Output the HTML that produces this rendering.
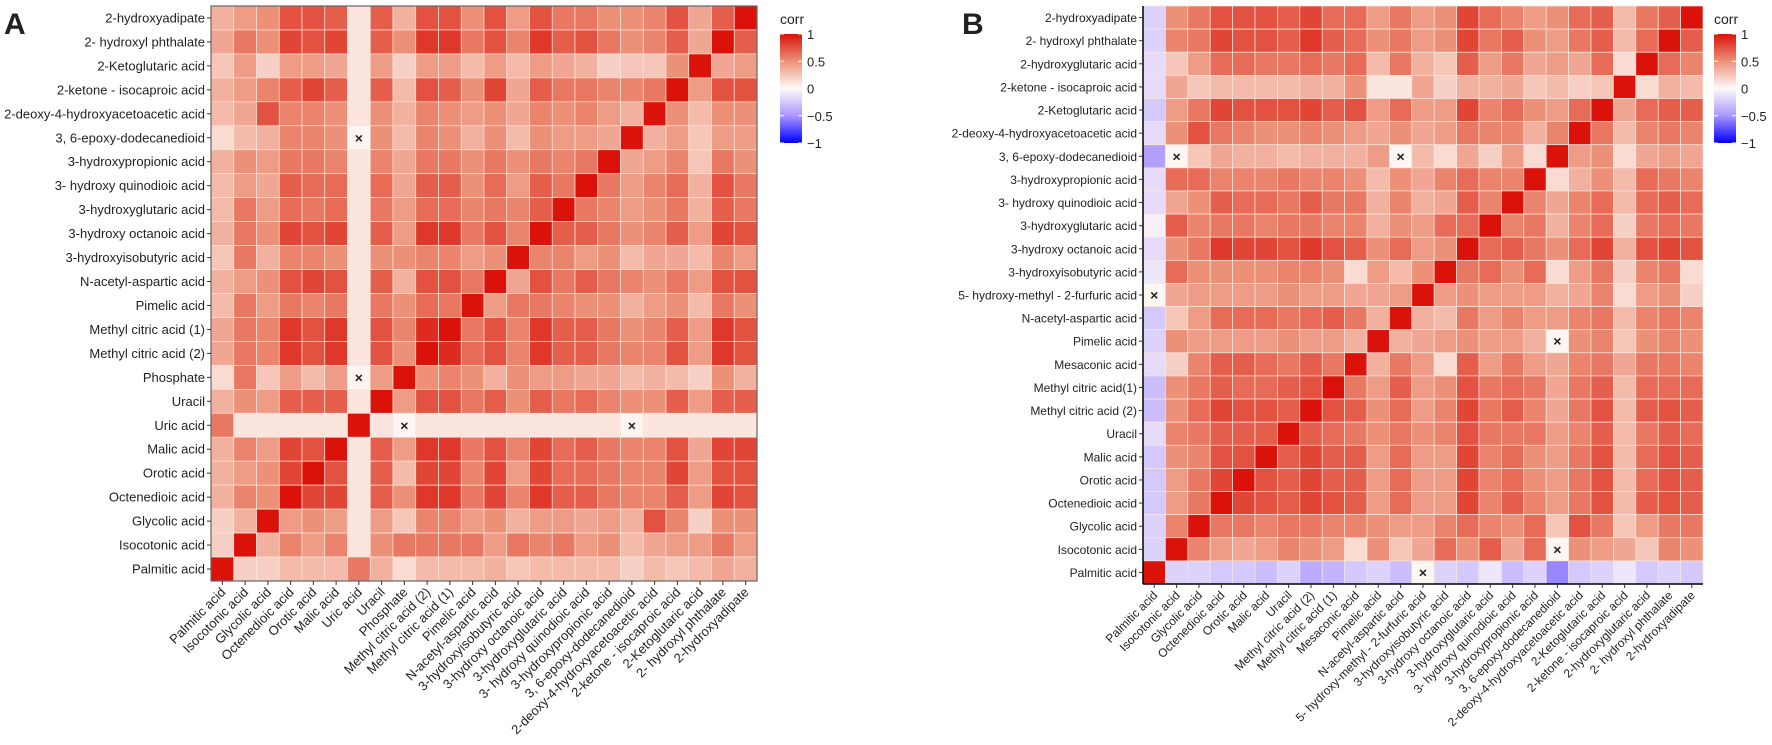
<!DOCTYPE html>
<html><head><meta charset="utf-8">
<style>
html,body{margin:0;padding:0;background:#fff;}
svg text{font-family:"Liberation Sans",sans-serif;fill:#222;}
</style></head>
<body>
<svg id="root" width="1772" height="740" viewBox="0 0 1772 740" xmlns="http://www.w3.org/2000/svg">
<defs>
<linearGradient id="lg" x1="0" y1="0" x2="0" y2="1">
<stop offset="0" stop-color="#da120a"/><stop offset="0.25" stop-color="#ec9178"/><stop offset="0.5" stop-color="#fffaf8"/><stop offset="0.75" stop-color="#aa96ff"/><stop offset="1" stop-color="#0000ff"/>
</linearGradient>
</defs>
<text x="4" y="34" font-size="30" font-weight="bold">A</text>
<text x="962" y="34" font-size="30" font-weight="bold">B</text>
<g id="panelA"></g>
<g id="panelB"></g>
</svg>
<script>
const varsA = ["Palmitic acid","Isocotonic acid","Glycolic acid","Octenedioic acid","Orotic acid","Malic acid","Uric acid","Uracil","Phosphate","Methyl citric acid (2)","Methyl citric acid (1)","Pimelic acid","N-acetyl-aspartic acid","3-hydroxyisobutyric acid","3-hydroxy octanoic acid","3-hydroxyglutaric acid","3- hydroxy quinodioic acid","3-hydroxypropionic acid","3, 6-epoxy-dodecanedioid","2-deoxy-4-hydroxyacetoacetic acid","2-ketone - isocaproic acid","2-Ketoglutaric acid","2- hydroxyl phthalate","2-hydroxyadipate"];
const rowLabelsA = ["2-hydroxyadipate","2- hydroxyl phthalate","2-Ketoglutaric acid","2-ketone - isocaproic acid","2-deoxy-4-hydroxyacetoacetic acid","3, 6-epoxy-dodecanedioid","3-hydroxypropionic acid","3- hydroxy quinodioic acid","3-hydroxyglutaric acid","3-hydroxy octanoic acid","3-hydroxyisobutyric acid","N-acetyl-aspartic acid","Pimelic acid","Methyl citric acid (1)","Methyl citric acid (2)","Phosphate","Uracil","Uric acid","Malic acid","Orotic acid","Octenedioic acid","Glycolic acid","Isocotonic acid","Palmitic acid"];
const valuesA = [
[0.35,0.45,0.5,0.75,0.75,0.7,0.1,0.7,0.35,0.75,0.75,0.5,0.75,0.45,0.75,0.6,0.6,0.5,0.5,0.55,0.75,0.4,0.7,1],
[0.4,0.6,0.5,0.8,0.75,0.8,0.1,0.7,0.5,0.85,0.85,0.6,0.75,0.55,0.85,0.7,0.75,0.6,0.5,0.55,0.7,0.4,1,0.7],
[0.25,0.45,0.2,0.45,0.45,0.4,0.1,0.45,0.2,0.45,0.45,0.3,0.45,0.3,0.45,0.4,0.35,0.2,0.25,0.25,0.5,1,0.4,0.45],
[0.35,0.45,0.55,0.7,0.8,0.7,0.1,0.7,0.3,0.75,0.7,0.5,0.8,0.4,0.7,0.6,0.6,0.55,0.55,0.6,1,0.45,0.75,0.75],
[0.3,0.4,0.75,0.55,0.55,0.5,0.1,0.5,0.35,0.55,0.5,0.45,0.5,0.4,0.55,0.5,0.55,0.45,0.35,1,0.5,0.3,0.5,0.5],
[0.15,0.3,0.35,0.55,0.55,0.5,null,0.5,0.3,0.55,0.5,0.35,0.5,0.3,0.5,0.45,0.45,0.4,1,0.35,0.45,0.25,0.45,0.45],
[0.35,0.5,0.45,0.6,0.6,0.55,0.1,0.55,0.4,0.6,0.6,0.5,0.6,0.5,0.6,0.55,0.6,1,0.4,0.45,0.55,0.25,0.6,0.5],
[0.3,0.45,0.4,0.7,0.65,0.65,0.1,0.65,0.4,0.7,0.7,0.5,0.65,0.45,0.7,0.6,1,0.6,0.45,0.55,0.65,0.35,0.75,0.6],
[0.3,0.6,0.45,0.65,0.6,0.65,0.1,0.6,0.45,0.65,0.65,0.55,0.6,0.55,0.7,1,0.6,0.55,0.45,0.5,0.6,0.35,0.7,0.6],
[0.35,0.6,0.5,0.8,0.75,0.8,0.1,0.7,0.45,0.85,0.85,0.6,0.75,0.55,1,0.7,0.7,0.6,0.5,0.55,0.7,0.45,0.8,0.75],
[0.25,0.6,0.35,0.55,0.55,0.5,0.1,0.5,0.5,0.55,0.55,0.45,0.5,1,0.55,0.55,0.45,0.5,0.3,0.4,0.4,0.3,0.55,0.45],
[0.35,0.45,0.5,0.75,0.8,0.75,0.1,0.7,0.35,0.75,0.75,0.6,1,0.4,0.75,0.6,0.7,0.6,0.55,0.5,0.6,0.45,0.75,0.75],
[0.3,0.6,0.45,0.6,0.55,0.6,0.1,0.6,0.5,0.65,0.6,1,0.45,0.6,0.6,0.55,0.5,0.5,0.35,0.45,0.5,0.3,0.6,0.5],
[0.4,0.6,0.55,0.85,0.75,0.85,0.1,0.75,0.55,0.9,1,0.6,0.75,0.55,0.85,0.7,0.7,0.6,0.5,0.55,0.7,0.45,0.85,0.75],
[0.4,0.6,0.55,0.85,0.75,0.85,0.1,0.75,0.5,1,0.9,0.65,0.75,0.55,0.85,0.7,0.7,0.6,0.55,0.55,0.75,0.45,0.85,0.75],
[0.15,0.6,0.25,0.45,0.3,0.45,null,0.45,1,0.5,0.55,0.5,0.35,0.5,0.45,0.45,0.4,0.4,0.3,0.35,0.3,0.2,0.5,0.35],
[0.35,0.5,0.45,0.7,0.7,0.7,0.1,1,0.45,0.75,0.75,0.6,0.7,0.5,0.7,0.6,0.65,0.55,0.5,0.5,0.7,0.45,0.7,0.7],
[0.6,0.1,0.1,0.1,0.1,0.1,1,0.1,null,0.1,0.1,0.1,0.1,0.1,0.1,0.1,0.1,0.1,null,0.1,0.1,0.1,0.1,0.1],
[0.35,0.55,0.45,0.8,0.75,1,0.1,0.7,0.45,0.85,0.85,0.6,0.75,0.55,0.8,0.65,0.7,0.6,0.55,0.55,0.75,0.4,0.8,0.8],
[0.35,0.45,0.5,0.8,1,0.75,0.1,0.7,0.3,0.8,0.8,0.55,0.8,0.45,0.8,0.65,0.65,0.6,0.55,0.55,0.8,0.45,0.75,0.75],
[0.35,0.55,0.5,1,0.8,0.8,0.1,0.7,0.5,0.85,0.85,0.6,0.8,0.55,0.85,0.7,0.7,0.6,0.55,0.55,0.7,0.45,0.8,0.75],
[0.2,0.35,1,0.45,0.5,0.45,0.1,0.45,0.25,0.55,0.55,0.45,0.5,0.35,0.45,0.45,0.4,0.45,0.35,0.75,0.55,0.2,0.5,0.5],
[0.2,1,0.35,0.55,0.45,0.55,0.1,0.5,0.6,0.6,0.6,0.6,0.45,0.6,0.55,0.6,0.45,0.5,0.3,0.4,0.45,0.45,0.6,0.45],
[1,0.2,0.2,0.3,0.3,0.3,0.6,0.35,0.15,0.3,0.3,0.3,0.35,0.25,0.3,0.3,0.3,0.3,0.2,0.3,0.25,0.3,0.4,0.35]
];
const varsB = ["Palmitic acid","Isocotonic acid","Glycolic acid","Octenedioic acid","Orotic acid","Malic acid","Uracil","Methyl citric acid (2)","Methyl citric acid (1)","Mesaconic acid","Pimelic acid","N-acetyl-aspartic acid","5- hydroxy-methyl - 2-furfuric acid","3-hydroxyisobutyric acid","3-hydroxy octanoic acid","3-hydroxyglutaric acid","3- hydroxy quinodioic acid","3-hydroxypropionic acid","3, 6-epoxy-dodecanedioid","2-deoxy-4-hydroxyacetoacetic acid","2-Ketoglutaric acid","2-ketone - isocaproic acid","2-hydroxyglutaric acid","2- hydroxyl phthalate","2-hydroxyadipate"];
const rowLabelsB = ["2-hydroxyadipate","2- hydroxyl phthalate","2-hydroxyglutaric acid","2-ketone - isocaproic acid","2-Ketoglutaric acid","2-deoxy-4-hydroxyacetoacetic acid","3, 6-epoxy-dodecanedioid","3-hydroxypropionic acid","3- hydroxy quinodioic acid","3-hydroxyglutaric acid","3-hydroxy octanoic acid","3-hydroxyisobutyric acid","5- hydroxy-methyl - 2-furfuric acid","N-acetyl-aspartic acid","Pimelic acid","Mesaconic acid","Methyl citric acid(1)","Methyl citric acid (2)","Uracil","Malic acid","Orotic acid","Octenedioic acid","Glycolic acid","Isocotonic acid","Palmitic acid"];
const valuesB = [
[-0.2,0.5,0.6,0.75,0.75,0.75,0.7,0.8,0.65,0.65,0.45,0.6,0.45,0.5,0.8,0.65,0.55,0.45,0.5,0.65,0.7,0.3,0.6,0.7,1],
[-0.2,0.55,0.6,0.8,0.75,0.75,0.7,0.85,0.7,0.65,0.5,0.6,0.45,0.5,0.8,0.6,0.7,0.5,0.45,0.6,0.7,0.3,0.65,1,0.7],
[-0.15,0.25,0.45,0.65,0.65,0.6,0.6,0.65,0.6,0.65,0.3,0.6,0.35,0.25,0.7,0.45,0.6,0.4,0.45,0.4,0.65,0.15,1,0.65,0.55],
[-0.15,0.4,0.25,0.3,0.3,0.3,0.3,0.35,0.35,0.5,0.1,0.1,0.4,0.2,0.35,0.35,0.4,0.25,0.3,0.2,0.25,1,0.15,0.35,0.3],
[-0.25,0.45,0.6,0.8,0.75,0.75,0.75,0.8,0.7,0.75,0.45,0.65,0.45,0.45,0.8,0.55,0.65,0.5,0.45,0.65,1,0.4,0.65,0.7,0.7],
[-0.15,0.5,0.75,0.6,0.55,0.5,0.5,0.55,0.5,0.45,0.4,0.5,0.4,0.45,0.6,0.55,0.55,0.35,0.55,1,0.6,0.3,0.55,0.6,0.55],
[-0.45,null,0.25,0.4,0.35,0.35,0.3,0.35,0.35,0.35,0.45,null,0.3,0.15,0.4,0.2,0.45,0.15,1,0.45,0.5,0.15,0.4,0.45,0.4],
[-0.15,0.65,0.65,0.55,0.55,0.55,0.6,0.55,0.55,0.5,0.3,0.5,0.4,0.55,0.65,0.55,0.55,1,0.15,0.35,0.5,0.3,0.65,0.6,0.55],
[-0.15,0.4,0.5,0.7,0.65,0.65,0.6,0.7,0.6,0.6,0.35,0.55,0.35,0.4,0.7,0.55,1,0.55,0.4,0.55,0.65,0.3,0.65,0.7,0.65],
[-0.05,0.7,0.55,0.6,0.6,0.55,0.6,0.6,0.55,0.55,0.35,0.5,0.45,0.65,0.65,1,0.55,0.6,0.35,0.55,0.65,0.2,0.6,0.65,0.6],
[-0.15,0.5,0.6,0.85,0.8,0.8,0.75,0.85,0.75,0.7,0.5,0.65,0.45,0.5,1,0.65,0.7,0.6,0.5,0.65,0.8,0.35,0.75,0.8,0.75],
[-0.1,0.65,0.5,0.5,0.5,0.5,0.55,0.55,0.5,0.15,0.45,0.3,0.5,1,0.6,0.65,0.5,0.65,0.15,0.45,0.6,0.2,0.55,0.6,0.15],
[null,0.4,0.45,0.45,0.45,0.45,0.5,0.45,0.45,0.4,0.4,0.45,1,0.45,0.5,0.45,0.45,0.45,0.35,0.4,0.55,0.15,0.45,0.5,0.2],
[-0.25,0.25,0.45,0.65,0.65,0.65,0.6,0.65,0.7,0.6,0.35,1,0.35,0.3,0.6,0.45,0.55,0.45,0.45,0.55,0.6,0.3,0.55,0.6,0.55],
[-0.2,0.5,0.45,0.45,0.45,0.45,0.5,0.45,0.45,0.35,1,0.35,0.4,0.45,0.5,0.45,0.45,0.35,null,0.5,0.55,0.25,0.5,0.55,0.5],
[-0.15,0.2,0.55,0.7,0.7,0.65,0.6,0.7,0.6,1,0.35,0.6,0.45,0.15,0.7,0.45,0.6,0.45,0.4,0.55,0.6,0.4,0.6,0.6,0.55],
[-0.3,0.5,0.6,0.7,0.65,0.65,0.7,0.75,1,0.6,0.45,0.7,0.45,0.5,0.75,0.6,0.65,0.6,0.4,0.6,0.7,0.3,0.65,0.65,0.65],
[-0.3,0.5,0.65,0.8,0.75,0.75,0.7,1,0.75,0.7,0.5,0.65,0.45,0.55,0.8,0.6,0.7,0.55,0.4,0.6,0.75,0.3,0.7,0.75,0.7],
[-0.15,0.55,0.6,0.7,0.7,0.7,1,0.7,0.65,0.6,0.5,0.6,0.5,0.55,0.75,0.6,0.6,0.6,0.45,0.55,0.7,0.3,0.6,0.7,0.65],
[-0.25,0.5,0.55,0.75,0.75,1,0.7,0.8,0.7,0.7,0.45,0.65,0.45,0.45,0.8,0.55,0.65,0.5,0.45,0.6,0.75,0.3,0.65,0.75,0.7],
[-0.25,0.45,0.6,0.8,1,0.75,0.7,0.8,0.7,0.7,0.45,0.65,0.45,0.45,0.8,0.55,0.65,0.5,0.45,0.6,0.75,0.3,0.65,0.75,0.7],
[-0.25,0.45,0.6,1,0.8,0.75,0.7,0.8,0.75,0.7,0.45,0.65,0.45,0.45,0.8,0.55,0.7,0.55,0.45,0.6,0.75,0.3,0.7,0.75,0.7],
[-0.2,0.55,1,0.6,0.6,0.55,0.6,0.6,0.55,0.55,0.5,0.45,0.45,0.55,0.65,0.55,0.5,0.65,0.25,0.75,0.6,0.25,0.45,0.6,0.6],
[-0.2,1,0.55,0.45,0.4,0.45,0.55,0.5,0.45,0.15,0.5,0.25,0.4,0.65,0.5,0.7,0.4,0.65,null,0.5,0.45,0.4,0.25,0.55,0.5],
[1,-0.2,-0.2,-0.25,-0.25,-0.3,-0.2,-0.4,-0.35,-0.25,-0.2,-0.3,null,-0.2,-0.25,-0.1,-0.3,-0.2,-0.55,-0.25,-0.2,-0.1,-0.25,-0.2,-0.25]
];
const legendTicks = [1,0.5,0,-0.5,-1];
const legendLabels = ["1","0.5","0","\u22120.5","\u22121"];

const NS = "http://www.w3.org/2000/svg";
function mk(tag, attrs, parent){
  const e = document.createElementNS(NS, tag);
  for (const k in attrs) e.setAttribute(k, attrs[k]);
  parent.appendChild(e);
  return e;
}
function lerp(a,b,t){return Math.round(a+(b-a)*t);}
function colorOf(v){
  let c;
  if (v >= 0.5){const t=(v-0.5)/0.5; c=[lerp(236,218,t),lerp(145,18,t),lerp(120,10,t)];}
  else if (v >= 0){const t=v/0.5; c=[lerp(255,236,t),lerp(250,145,t),lerp(248,120,t)];}
  else if (v >= -0.5){const t=-v/0.5; c=[lerp(255,170,t),lerp(250,150,t),lerp(248,255,t)];}
  else {const t=(-v-0.5)/0.5; c=[lerp(170,0,t),lerp(150,0,t),255];}
  return "rgb("+c.join(",")+")";
}

function drawPanel(g, cols, rows, vals, x0, y0, x1, y1, fs, frame, legX){
  const nC = cols.length, nR = rows.length;
  const cw = (x1-x0)/nC, rh = (y1-y0)/nR;
  const xScale = j => x0 + j*cw;
  const yScale = i => y0 + i*rh;
  for (let i=0;i<nR;i++){
    for (let j=0;j<nC;j++){
      const v = vals[i][j];
      const r = mk("rect",{x:xScale(j),y:yScale(i),width:cw,height:rh,fill: v===null?"#fdf6f3":colorOf(v),stroke:"#f6e6df","stroke-width":0.7}, g);
      
      
      if (v===null){
        const t = mk("text",{x:xScale(j)+cw/2,y:yScale(i)+rh/2+5,"text-anchor":"middle","font-size":14,"font-weight":"bold"}, g);
        t.textContent = "\u00d7";
        
        
      }
    }
  }
  if (frame==="box"){
    mk("rect",{x:x0,y:y0,width:x1-x0,height:y1-y0,fill:"none",stroke:"#666","stroke-width":1.2}, g);
  } else {
    mk("line",{x1:x0,y1:y0,x2:x0,y2:y1,stroke:"#000","stroke-width":1.5}, g);
    mk("line",{x1:x0,y1:y1,x2:x1,y2:y1,stroke:"#000","stroke-width":1.5}, g);
  }
  for (let i=0;i<nR;i++){
    const yc = yScale(i)+rh/2;
    mk("line",{x1:x0-4,y1:yc,x2:x0,y2:yc,stroke:"#333","stroke-width":1}, g);
    const t = mk("text",{x:x0-6,y:yc+4.5,"text-anchor":"end","font-size":fs}, g);
    t.textContent = rows[i];
    
    
  }
  for (let j=0;j<nC;j++){
    const xc = xScale(j)+cw/2;
    mk("line",{x1:xc,y1:y1,x2:xc,y2:y1+4,stroke:"#333","stroke-width":1}, g);
    const t = mk("text",{x:xc+4,y:y1+12,"text-anchor":"end","font-size":fs,transform:"rotate(-45 "+(xc+4)+" "+(y1+12)+")"}, g);
    t.textContent = cols[j];
    
    
  }
  const lg = mk("g",{}, g);
  
  
  const lt = mk("text",{x:legX,y:24,"font-size":14}, lg);
  lt.textContent = "corr";
  const ly0 = 34, ly1 = 143, lw = 22;
  mk("rect",{x:legX,y:ly0,width:lw,height:ly1-ly0,fill:"url(#lg)"}, lg);
  const ls = v => ly0 + (1-v)/2*(ly1-ly0);
  legendTicks.forEach((v,k)=>{
    const yy = ls(v);
    mk("line",{x1:legX,y1:yy,x2:legX+4,y2:yy,stroke:"#fff","stroke-width":1}, lg);
    mk("line",{x1:legX+lw-4,y1:yy,x2:legX+lw,y2:yy,stroke:"#fff","stroke-width":1}, lg);
    const t = mk("text",{x:legX+lw+5,y:yy+5,"font-size":13}, lg);
    t.textContent = legendLabels[k];
  });
}
drawPanel(document.getElementById("panelA"), varsA, rowLabelsA, valuesA, 211, 6, 757, 581, 13, "box", 780);
drawPanel(document.getElementById("panelB"), varsB, rowLabelsB, valuesB, 1143, 6, 1703, 584, 12, "axes", 1714);
</script>
</body></html>
